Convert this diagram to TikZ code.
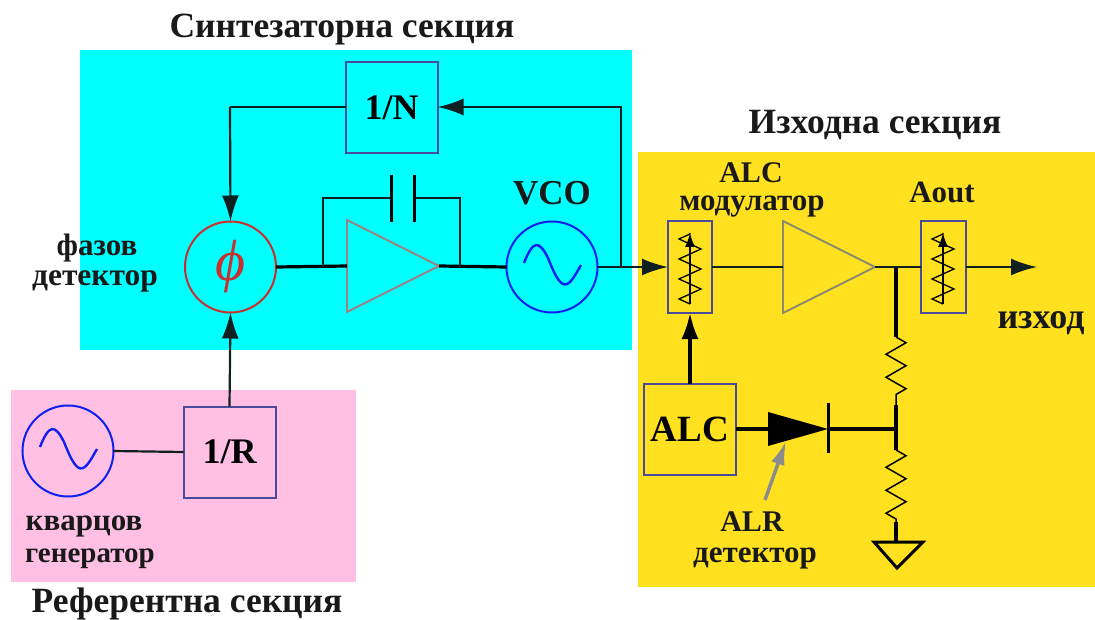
\documentclass[tikz,border=0pt]{standalone}
\usepackage{fontspec}
\setmainfont{Liberation Serif}
\usetikzlibrary{shapes.geometric,decorations.pathmorphing,arrows.meta}
\definecolor{cyanbg}{HTML}{00FFFF}
\definecolor{pinkbg}{HTML}{FFC0E3}
\definecolor{yellowbg}{HTML}{FFE11F}
\definecolor{boxblue}{HTML}{4A4A9A}
\definecolor{ringred}{HTML}{C83030}
\definecolor{ampbrown}{HTML}{A08080}
\definecolor{ampgrey}{HTML}{8A8A70}
\definecolor{oscblue}{HTML}{1020F0}
\definecolor{wire}{HTML}{102020}
\tikzset{
  blockbox/.style={draw=boxblue,line width=2pt,minimum width=92pt,minimum height=91pt,inner sep=0pt,outer sep=0pt},
  narrowbox/.style={draw=boxblue,line width=2pt,minimum width=44pt,minimum height=92pt,inner sep=0pt,outer sep=0pt},
  ring/.style={circle,line width=2pt,minimum size=91pt,inner sep=0pt,outer sep=0pt},
  amp/.style={isosceles triangle,isosceles triangle stretches,shape border rotate=0,minimum width=92pt,minimum height=92pt,inner sep=0pt,outer sep=0pt,line width=1.8pt},
  wirethin/.style={draw=wire,line width=2.2pt},
  wirethick/.style={draw=black,line width=3.2pt},
  head/.style={-{Latex[length=26pt,width=17pt]}},
  lbl/.style={font=\bfseries\fontsize{#1}{#1}\selectfont,inner sep=0pt,text=black!90},
  lbl/.default=27,
  zz/.style={decorate,decoration={zigzag,amplitude=10pt,segment length=23pt},draw=black,line width=1.5pt},
  tinyzz/.style={decorate,decoration={zigzag,amplitude=11pt,segment length=20pt},draw=black,line width=1.3pt},
  varhead/.style={draw=black,line width=1.5pt,-{Latex[length=14pt,width=10pt]}},
}
\begin{document}
\begin{tikzpicture}[x=1pt,y=-1pt]
\useasboundingbox (0,0) rectangle (1095,620);
\fill[white] (0,0) rectangle (1095,620);
\fill[cyanbg] (80,50) rectangle (632,350);
\fill[pinkbg] (11,390) rectangle (356,582);
\fill[yellowbg] (638,152) rectangle (1095,587);
% blocks
\node[blockbox] (divn) at (391.5,107.5) {\bfseries\fontsize{36}{36}\selectfont 1/N};
\node[blockbox] (divr) at (229.5,452) {\bfseries\fontsize{36}{36}\selectfont 1/R};
\node[blockbox] (alc) at (690,429) {\bfseries\fontsize{37}{37}\selectfont ALC};
\node[narrowbox] (mod) at (690,267) {};
\node[narrowbox,minimum width=45pt] (aout) at (943.5,267) {};
\node[ring,draw=ringred] (pd) at (230.5,267) {\textcolor{ringred}{\itshape\fontsize{58}{58}\selectfont ϕ}};
\node[ring,draw=oscblue] (vco) at (552,267) {};
\node[ring,draw=oscblue] (xo) at (68,451) {};
\node[amp,draw=ampbrown,anchor=lower side] (amp1) at (347,266) {};
\node[amp,draw=ampgrey,anchor=lower side] (amp2) at (783,267) {};
% oscillator sines
\draw[oscblue,line width=2.4pt] (524,263) .. controls (533,240) and (539,240) .. (548,258) .. controls (556,278) and (562,290) .. (570,282) .. controls (574,278) and (578,270) .. (581,265);
\draw[oscblue,line width=2.4pt] (40,447) .. controls (49,424) and (55,424) .. (64,442) .. controls (72,462) and (78,474) .. (86,466) .. controls (90,462) and (94,454) .. (97,449);
% helper coordinates
\coordinate (fbturn) at (621,107);
\coordinate (fbtap) at (621,267);
\coordinate (nturn) at (230,107);
\coordinate (capl) at (323,267);
\coordinate (capr) at (460,267);
\coordinate (capltop) at (323,198);
\coordinate (caprtop) at (460,198);
\coordinate (plateAt) at (391,175);
\coordinate (plateAb) at (391,222);
\coordinate (plateBt) at (414,175);
\coordinate (plateBb) at (414,222);
\coordinate (plateAm) at (391,198);
\coordinate (plateBm) at (414,198);
\coordinate (out) at (1037,267);
\coordinate (junc) at (896,267);
\coordinate (r1a) at (896,337);
\coordinate (r1b) at (896,405);
\coordinate (junc2) at (896,429);
\coordinate (r2a) at (896,450);
\coordinate (r2b) at (896,522);
\coordinate (gndtop) at (896,542);
\coordinate (gl) at (874,542);
\coordinate (gr) at (923,542);
\coordinate (gt) at (897,568);
\coordinate (dl) at (768,429);
\coordinate (dr) at (828,429);
\coordinate (dt) at (768,412);
\coordinate (db) at (768,446);
\coordinate (bt) at (828,403);
\coordinate (bb) at (828,453);
\coordinate (alrtail) at (765,500);
\coordinate (alrtip) at (786,441);
% connectors
\draw[wirethin] (divn.west |- fbturn) -- (nturn);
\draw[wirethin,head] (nturn) -- (pd.north);
\draw[wirethin,head] (fbtap) -- (fbturn) -- (divn.east |- fbturn);
\draw[wirethick] (pd.east) -- (amp1.lower side);
\draw[wirethick] (amp1.apex) -- (vco.west);
\draw[wirethin] (capl) -- (capltop) -- (plateAm);
\draw[wirethin] (capr) -- (caprtop) -- (plateBm);
\draw[black,line width=3pt] (plateAt) -- (plateAb);
\draw[black,line width=3pt] (plateBt) -- (plateBb);
\draw[wirethin,head] (vco.east) -- (mod.west);
\draw[wirethin] (mod.east) -- (amp2.lower side);
\draw[wirethin] (amp2.apex) -- (aout.west);
\draw[wirethin,head] (aout.east) -- (out);
\draw[wirethin] (xo.east) -- (divr.west);
\draw[wirethin,head] (divr.north) -- (pd.south);
\draw[black,line width=3.2pt,head] (alc.north) -- (mod.south);
\draw[wirethick] (junc) -- (r1a);
\draw[zz] (r1a) -- (r1b);
\draw[wirethick] (r1b) -- (r2a);
\draw[zz] (r2a) -- (r2b);
\draw[wirethick] (r2b) -- (gndtop);
\draw[black,line width=3pt,line join=miter] (gl) -- (gr) -- (gt) -- cycle;
\draw[wirethick] (alc.east) -- (dl);
\fill[black] (dt) -- (dr) -- (db) -- cycle;
\draw[black,line width=3pt] (bt) -- (bb);
\draw[wirethick] (dr) -- (junc2);
\draw[draw=gray!90,line width=3.5pt,-{Latex[length=24pt,width=14pt]}] (alrtail) -- (alrtip);
% variable resistors
\coordinate (va) at (690,304);
\coordinate (vb) at (690,233);
\draw[tinyzz] (va) -- (vb);
\draw[varhead] (va) -- (vb);
\coordinate (wa) at (943,304);
\coordinate (wb) at (943,233);
\draw[tinyzz] (wa) -- (wb);
\draw[varhead] (wa) -- (wb);
% labels
\node[lbl=35.5] (t1) at (342,30) {Синтезаторна секция};
\node[lbl=35.5] (t2) at (875,125) {Изходна секция};
\node[lbl=35.5] (t3) at (187,604) {Референтна секция};
\node[lbl=30] (l1) at (751,173) {ALC};
\node[lbl=31] (l2) at (752,207) {модулатор};
\node[lbl=31] (l3) at (942,192) {Aout};
\node[lbl=36] (l4) at (1041,323) {изход};
\node[lbl=35] (l5) at (552,193) {VCO};
\node[lbl=31] (l6) at (97,248) {фазов};
\node[lbl=31.5] (l7) at (95,281) {детектор};
\node[lbl=31] (l8) at (84,526) {кварцов};
\node[lbl=29] (l9) at (90,559) {генератор};
\node[lbl=30] (l10) at (752,522) {ALR};
\node[lbl=31] (l11) at (755,558) {детектор};
\end{tikzpicture}
\end{document}
